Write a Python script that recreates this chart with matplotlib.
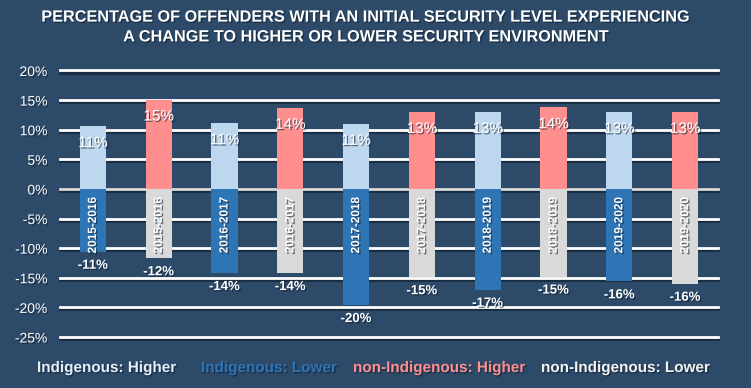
import matplotlib.pyplot as plt
import matplotlib.patheffects as pe
import numpy as np

plt.rcParams['font.family'] = ['Liberation Sans', 'DejaVu Sans']

# Data (percent)
years = ['2015-2016', '2016-2017', '2017-2018', '2018-2019', '2019-2020']
ind_higher = [10.6, 11.1, 11.0, 13.0, 13.0]
ind_lower = [-10.6, -14.2, -19.6, -17.0, -15.6]
non_higher = [15.1, 13.7, 13.0, 13.8, 13.0]
non_lower = [-11.7, -14.2, -14.9, -14.8, -16.0]

legend_labels = ['Indigenous: Higher', 'Indigenous: Lower',
                 'non-Indigenous: Higher', 'non-Indigenous: Lower']

bg = '#2D4A69'
c_ind_hi = '#BDD7EE'
c_ind_lo = '#2E75B6'
c_non_hi = '#FF8F8F'
c_non_lo = '#D9D9D9'

shadow = [pe.SimplePatchShadow(offset=(1, -1), shadow_rgbFace='#10202f', alpha=0.6), pe.Normal()]
line_shadow = [pe.SimpleLineShadow(offset=(0, -1.5), shadow_color='#152638', alpha=0.8), pe.Normal()]

fig = plt.figure(figsize=(7.51, 3.88), dpi=100, facecolor=bg)
ax = fig.add_axes([60 / 751, 1 - 337 / 388, 658 / 751, 266.5 / 388])
ax.set_facecolor(bg)

# interleave: Indigenous then non-Indigenous for each year
x_ind = np.arange(len(years)) * 2
x_non = x_ind + 1
w = 0.4

ax.bar(x_ind, ind_higher, w, color=c_ind_hi, zorder=3)
ax.bar(x_ind, ind_lower, w, color=c_ind_lo, zorder=3)
ax.bar(x_non, non_higher, w, color=c_non_hi, zorder=3)
ax.bar(x_non, non_lower, w, color=c_non_lo, zorder=3)

ticks = list(range(-25, 21, 5))
for t in ticks:
    col = '#D9D9D9' if t == 0 else 'white'
    ax.axhline(t, color=col, lw=2, zorder=1, clip_on=False,
               path_effects=line_shadow)

# value labels
for xs, hi, lo in [(x_ind, ind_higher, ind_lower), (x_non, non_higher, non_lower)]:
    for x, h, l in zip(xs, hi, lo):
        ax.annotate(f'{h:.0f}%', (x, h), xytext=(0, -17), textcoords='offset pixels',
                    ha='center', va='center', color='white', fontsize=11,
                    zorder=5, path_effects=shadow)
        ax.annotate(f'{l:.0f}%', (x, l), xytext=(0, -14), textcoords='offset pixels',
                    ha='center', va='center', color='white', fontsize=9.5,
                    fontweight='bold', zorder=5, path_effects=shadow)

# year labels inside lower bars
for xs in (x_ind, x_non):
    for x, yr in zip(xs, years):
        ax.annotate(yr, (x, 0), xytext=(0, -8), textcoords='offset pixels',
                    ha='center', va='top', rotation=90, color='white',
                    fontsize=8.5, fontweight='bold', zorder=5, path_effects=shadow)

ax.set_xlim(-0.5, 9.5)
ax.set_ylim(-25, 20)
ax.set_xticks([])
ax.set_yticks(ticks)
ax.set_yticklabels([f'{t}%' for t in ticks], color='white', fontsize=10)
ax.tick_params(axis='y', length=0, pad=9)
for lab in ax.get_yticklabels():
    lab.set_path_effects(shadow)
for s in ax.spines.values():
    s.set_visible(False)

fig.text(366 / 751, 1 - 27 / 388,
         'PERCENTAGE OF OFFENDERS WITH AN INITIAL SECURITY LEVEL EXPERIENCING\n'
         'A CHANGE TO HIGHER OR LOWER SECURITY ENVIRONMENT',
         ha='center', va='center', color='white', fontsize=11.7, fontweight='bold',
         linespacing=1.4, path_effects=shadow)

# text-only legend
leg_x = [37, 201, 353, 541]
leg_c = ['#E4EEF8', c_ind_lo, c_non_hi, '#F2F2F2']
for lx, lab, lc in zip(leg_x, legend_labels, leg_c):
    fig.text(lx / 751, 1 - 368 / 388, lab, ha='left', va='center', color=lc,
             fontsize=11, fontweight='bold', path_effects=shadow)

fig.savefig('out.png', dpi=100, facecolor=bg)
